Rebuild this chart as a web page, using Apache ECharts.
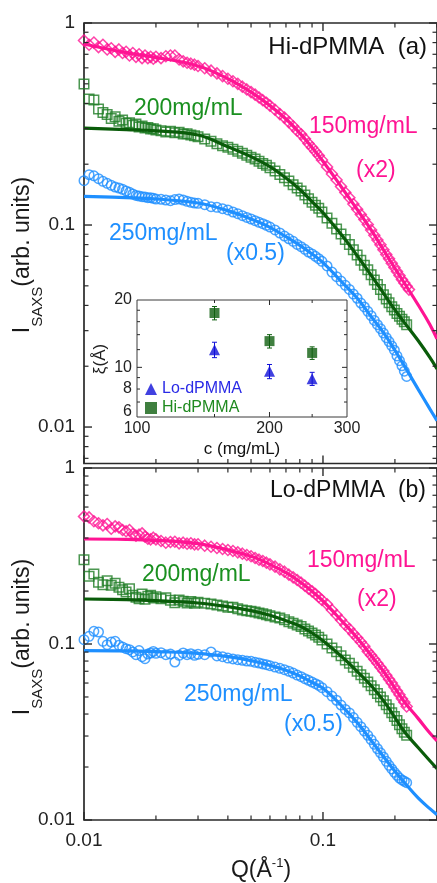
<!DOCTYPE html>
<html>
<head>
<meta charset="utf-8">
<script src="https://cdn.jsdelivr.net/npm/echarts@6/dist/echarts.min.js"></script>
<style>html,body{margin:0;padding:0;background:#fff}#c{width:437px;height:883px}</style>
</head>
<body>
<div id="c"></div>
<script>
// ---------- data ----------
const Q = [0.0100,0.0105,0.0110,0.0115,0.0120,0.0125,0.0130,0.0135,0.0140,0.0145,
0.0150,0.0155,0.0160,0.0165,0.0170,0.0175,0.0180,0.0185,0.0190,0.0195,
0.0200,0.021,0.022,0.023,0.024,0.025,0.026,0.027,0.028,0.029,
0.030,0.032,0.034,0.036,0.038,0.040,0.042,0.044,0.046,0.048,
0.050,0.052,0.054,0.056,0.058,0.060,0.063,0.066,0.069,0.072,
0.075,0.078,0.081,0.084,0.087,0.090,0.093,0.096,0.099,0.104,
0.109,0.114,0.119,0.124,0.129,0.134,0.139,0.144,0.149,0.154,
0.159,0.164,0.169,0.174,0.179,0.184,0.189,0.194,0.199,0.204,
0.209,0.214,0.219,0.224,0.229];

// (a) Hi-dPMMA
const hiP150 = [0.82,0.78,0.80,0.76,0.78,0.74,0.75,0.72,0.74,0.71,
0.72,0.69,0.71,0.68,0.70,0.67,0.69,0.67,0.68,0.665,
0.68,0.67,0.685,0.69,0.69,0.66,0.646,0.636,0.629,0.622,
0.613,0.597,0.581,0.563,0.546,0.530,0.515,0.500,0.484,0.469,
0.455,0.442,0.428,0.415,0.403,0.390,0.372,0.354,0.340,0.323,
0.308,0.293,0.281,0.267,0.253,0.242,0.231,0.221,0.210,0.194,
0.179,0.167,0.155,0.145,0.1365,0.1271,0.1198,0.1128,0.1066,0.1005,
0.0945,0.0890,0.0843,0.0798,0.0755,0.0715,0.0680,0.0647,0.0616,0.0589,
0.0562,0.0537,0.0517,0.0497,0.0479];
const hiG200 = [0.499,0.42,0.416,0.375,0.361,0.352,0.337,0.344,0.326,0.331,
0.319,0.321,0.312,0.316,0.306,0.309,0.302,0.304,0.2987,0.300,
0.295,0.293,0.2887,0.291,0.286,0.288,0.282,0.283,0.279,0.277,
0.2737,0.2665,0.2596,0.2527,0.247,0.2424,0.2369,0.2316,0.2263,0.2212,
0.2163,0.2122,0.2066,0.2019,0.1974,0.1922,0.185,0.178,0.1715,0.1651,
0.1583,0.1525,0.1474,0.1408,0.135,0.1295,0.1252,0.1209,0.116,0.1083,
0.1019,0.0955,0.0902,0.0849,0.0802,0.0755,0.071,0.0669,0.0632,0.0601,
0.0568,0.0534,0.0507,0.0479,0.0452,0.043,0.0412,0.0394,0.0380,0.0365,
0.0354,0.0342,0.0332,0.0321,null];
const hiB250 = [0.1658,0.1775,0.1753,0.1696,0.1645,0.1608,0.1572,0.1542,0.1525,0.1502,
0.1474,0.1451,0.1424,0.1402,0.1392,0.1381,0.1378,0.1366,0.1366,0.1356,
0.1345,0.1341,0.133,0.132,0.1336,0.1345,0.133,0.131,0.1295,0.1285,
0.128,0.1261,0.1232,0.1223,0.1204,0.1187,0.116,0.1138,0.1112,0.1091,
0.1071,0.1051,0.1031,0.1015,0.0996,0.0977,0.0945,0.0913,0.0882,0.0855,
0.083,0.0802,0.0781,0.0758,0.0735,0.0719,0.070,0.0681,0.0661,0.0627,
0.0585,0.0555,0.0528,0.0503,0.048,0.0455,0.0434,0.0411,0.0393,0.0374,
0.0356,0.0337,0.0321,0.0307,0.0292,0.0277,0.0265,0.0252,0.0240,0.0225,
0.0213,0.0201,0.0189,0.0178,null];

// (b) Lo-dPMMA
const loP150 = [0.531,0.524,0.498,0.485,0.472,0.481,0.452,0.466,0.460,0.444,
0.437,0.444,0.422,0.4126,0.418,0.4253,0.4073,0.3967,0.3933,0.4019,
0.3933,0.3848,0.3765,0.3798,0.381,0.3733,0.3765,0.3716,0.3733,0.3684,
0.3684,0.362,0.357,0.351,0.3466,0.342,0.3376,0.3317,0.326,0.3204,
0.315,0.308,0.3014,0.2962,0.2898,0.2836,0.2751,0.2656,0.2576,0.2477,
0.2392,0.2310,0.2231,0.2145,0.2062,0.1991,0.1923,0.1849,0.1778,0.168,
0.156,0.1462,0.1369,0.1282,0.1217,0.1145,0.1086,0.1026,0.0970,0.0908,
0.0862,0.0818,0.0777,0.0737,0.0702,0.0664,0.063,0.060,0.057,0.0541,
0.0515,0.0489,0.0466,0.0442,null];
const loG200 = [0.3014,0.2424,0.2498,0.2241,0.2173,0.229,0.2154,0.2211,0.2099,0.2035,
0.1974,0.2062,0.189,0.1841,0.1809,0.1923,0.1794,0.1866,0.189,0.1826,
0.1858,0.1809,0.1834,0.177,0.1717,0.1778,0.1748,0.171,0.1741,0.1702,
0.1725,0.1702,0.1688,0.1665,0.1644,0.1615,0.1620,0.1587,0.156,0.1547,
0.1533,0.152,0.15,0.1487,0.1468,0.1449,0.1423,0.1405,0.1373,0.134,
0.1311,0.1282,0.1257,0.1217,0.1186,0.1155,0.1125,0.1091,0.1054,0.100,
0.0949,0.0905,0.0858,0.0811,0.0777,0.0737,0.0701,0.0668,0.0638,0.0608,
0.058,0.055,0.0524,0.05,0.0476,0.0452,0.0429,0.0407,0.0387,0.0367,
0.0348,0.033,0.0315,0.0303,null];
const loB250 = [0.1058,0.1105,0.118,0.117,0.1035,0.0991,0.1026,0.1035,0.0983,0.0961,
0.0941,0.0929,0.0901,0.087,0.0917,0.0847,0.0825,0.0877,0.0889,0.0908,
0.0885,0.0893,0.087,0.0877,0.079,0.0862,0.0889,0.087,0.0881,0.0862,
0.0874,0.087,0.0901,0.0855,0.0847,0.0832,0.0822,0.0815,0.0808,0.080,
0.0797,0.0787,0.078,0.077,0.0763,0.0753,0.074,0.0727,0.0715,0.070,
0.0684,0.0666,0.0652,0.0635,0.0622,0.0608,0.0595,0.0582,0.0565,0.0536,
0.0506,0.0479,0.045,0.0425,0.0406,0.0382,0.0359,0.0339,0.032,0.0303,
0.0286,0.0269,0.0254,0.0241,0.0228,0.02154,0.02044,0.0195,0.01866,0.01794,
0.01732,0.01688,0.0166,0.0163,null];

// fitted curves
const fitQ = [0.01,0.015,0.02,0.03,0.04,0.05,0.06,0.07,0.08,0.09,0.10,0.12,0.14,0.16,0.18,0.20,0.22,0.25,0.28,0.30];
const hiP150Fit = [0.787,0.713,0.676,0.613,0.530,0.455,0.390,0.335,0.285,0.242,0.207,0.153,0.118,0.0935,0.0746,0.0611,0.0512,0.0403,0.0322,0.0273];
const hiG200Fit = [0.302,0.2965,0.2925,0.279,0.244,0.218,0.1944,0.1709,0.150,0.1305,0.115,0.0889,0.0697,0.0559,0.0455,0.038,0.0327,0.0268,0.0221,0.0194];
const hiB250Fit = [0.1386,0.1366,0.1345,0.1285,0.1178,0.1071,0.0974,0.0875,0.0793,0.0719,0.0651,0.0522,0.043,0.0349,0.0291,0.0240,0.0199,0.0154,0.0123,0.01075];
const loP150Fit = [0.395,0.3933,0.388,0.3716,0.342,0.315,0.2836,0.2542,0.226,0.1991,0.1755,0.1351,0.1072,0.0851,0.0693,0.0562,0.0465,0.0378,0.0312,0.0282];
const loG200Fit = [0.1802,0.1786,0.1763,0.171,0.163,0.1547,0.1455,0.1357,0.1266,0.1155,0.1045,0.0847,0.0693,0.0575,0.0472,0.0382,0.0315,0.0258,0.0217,0.0196];
const loB250Fit = [0.0917,0.0914,0.0905,0.0885,0.0847,0.0804,0.0756,0.0709,0.0658,0.0606,0.056,0.0444,0.0354,0.028,0.0227,0.0189,0.01622,0.01334,0.0116,0.01072];

// inset: correlation length vs concentration
const insetC = [150, 200, 250];
const xiLo = [12.0, 9.6, 8.9];
const xiLoErr = [0.95, 0.7, 0.6];
const xiHi = [17.5, 13.1, 11.6];
const xiHiErr = [1.2, 0.9, 0.75];

// tick values
const yMajorTicks = [0.01, 0.1, 1];
const yMinorTicks = [0.007,0.008,0.009,0.02,0.03,0.04,0.05,0.06,0.07,0.08,0.09,0.2,0.3,0.4,0.5,0.6,0.7,0.8,0.9];
const xMajorTicks = [0.01, 0.1];
const xMinorTicks = [0.02,0.03,0.04,0.05,0.06,0.07,0.08,0.09,0.2,0.3];
const insetXLabels = [100, 200, 300];
const insetXMajor = [200];
const insetXMinor = [150, 250];
const insetYLabels = [6, 8, 10, 20];
const insetYMajor = [10];
const insetYMinor = [7, 8, 9, 12, 14, 16, 18];

// ---------- styling ----------
const FONT = 'Arial, "Liberation Sans", Helvetica, sans-serif';
const PINK = '#ff1493', GREENM = '#1f7d25', GREENL = '#0a5c0a', GREENT = '#1a9020', BLUE = '#1e8fff';
const TRI = '#1010d8', TRIT = '#2a2ae6', SQ = '#0f5f0f', SQT = '#1f8a1f';
const AX = '#2a2a2a';

const EXT = [
  {x: [0.01, 0.3], y: [0.0066, 1]},
  {x: [0.01, 0.3], y: [0.01, 1]},
  {x: [100, 300], y: [6, 20]}
];

function decadeLabel(v) {
  const l = Math.log10(v);
  return Math.abs(l - Math.round(l)) < 1e-6 ? String(v) : '';
}

function tickSeries(gi, dir, values, len, lw) {
  const ext = EXT[gi];
  const vals = values.filter(v => dir === 'y' ? (v >= ext.y[0] && v <= ext.y[1]) : (v >= ext.x[0] && v <= ext.x[1]));
  return {
    type: 'custom', xAxisIndex: gi, yAxisIndex: gi, silent: true, clip: false, z: 6,
    data: vals.map(v => dir === 'y' ? [ext.x[0], v] : [v, ext.y[0]]),
    renderItem: function (params, api) {
      const st = {stroke: AX, lineWidth: lw};
      if (dir === 'y') {
        const v = api.value(1);
        const a = api.coord([ext.x[0], v]), b = api.coord([ext.x[1], v]);
        return {type: 'group', children: [
          {type: 'line', shape: {x1: a[0], y1: a[1], x2: a[0] + len, y2: a[1]}, style: st},
          {type: 'line', shape: {x1: b[0], y1: b[1], x2: b[0] - len, y2: b[1]}, style: st}
        ]};
      }
      const v = api.value(0);
      const a = api.coord([v, ext.y[0]]), b = api.coord([v, ext.y[1]]);
      return {type: 'group', children: [
        {type: 'line', shape: {x1: a[0], y1: a[1], x2: a[0], y2: a[1] - len}, style: st},
        {type: 'line', shape: {x1: b[0], y1: b[1], x2: b[0], y2: b[1] + len}, style: st}
      ]};
    }
  };
}

function labelSeries(gi, dir, values, fontSize, gap) {
  const ext = EXT[gi];
  return {
    type: 'custom', xAxisIndex: gi, yAxisIndex: gi, silent: true, clip: false, z: 6,
    data: values.map(v => dir === 'y' ? [ext.x[0], v] : [v, ext.y[0]]),
    renderItem: function (params, api) {
      const p = api.coord([api.value(0), api.value(1)]);
      const v = dir === 'y' ? api.value(1) : api.value(0);
      const isMin = dir === 'y' && v === ext.y[0];
      return {type: 'text',
        x: dir === 'y' ? p[0] - gap : p[0],
        y: dir === 'y' ? (isMin ? p[1] + 3 : p[1]) : p[1] + gap,
        style: {text: String(v), fill: '#222', fontSize: fontSize, fontFamily: FONT,
          align: dir === 'y' ? 'right' : 'center', textAlign: dir === 'y' ? 'right' : 'center',
          verticalAlign: dir === 'y' ? (isMin ? 'bottom' : 'middle') : 'top',
          textVerticalAlign: dir === 'y' ? (isMin ? 'bottom' : 'middle') : 'top'}};
    }
  };
}

function markers(name, gi, ys, symbol, size, color) {
  const data = [];
  Q.forEach((q, i) => { if (ys[i] != null) data.push([q, ys[i]]); });
  return {type: 'scatter', name: name, xAxisIndex: gi, yAxisIndex: gi, data: data,
    symbol: symbol, symbolSize: size, silent: true, z: 2,
    itemStyle: {color: 'rgba(0,0,0,0)', borderColor: color, borderWidth: 1.5}};
}

function fitLine(name, gi, ys, color) {
  return {type: 'line', name: name, xAxisIndex: gi, yAxisIndex: gi,
    data: fitQ.map((q, i) => [q, ys[i]]), showSymbol: false, symbol: 'none',
    smooth: 0.4, silent: true, z: 3, clip: true, lineStyle: {color: color, width: 3.2}};
}

function errorBars(gi, xs, ys, es, color) {
  return {type: 'custom', xAxisIndex: gi, yAxisIndex: gi, silent: true, z: 4,
    data: xs.map((x, i) => [x, ys[i], es[i]]),
    renderItem: function (params, api) {
      const x = api.value(0), y = api.value(1), e = api.value(2);
      const lo = api.coord([x, y - e]), hi = api.coord([x, y + e]);
      const st = {stroke: color, lineWidth: 1};
      return {type: 'group', children: [
        {type: 'line', shape: {x1: lo[0], y1: lo[1], x2: hi[0], y2: hi[1]}, style: st},
        {type: 'line', shape: {x1: lo[0] - 2.5, y1: lo[1], x2: lo[0] + 2.5, y2: lo[1]}, style: st},
        {type: 'line', shape: {x1: hi[0] - 2.5, y1: hi[1], x2: hi[0] + 2.5, y2: hi[1]}, style: st}
      ]};
    }};
}

function logAxis(gi, opts) {
  return Object.assign({gridIndex: gi, type: 'log', logBase: 10,
    axisLine: {show: false}, axisTick: {show: false}, splitLine: {show: false},
    axisLabel: {show: false}}, opts);
}

function txt(t, x, y, color, size, align) {
  return {type: 'text', x: x, y: y, z: 100, silent: true,
    style: {text: t, fill: color, fontSize: size, fontFamily: FONT,
      align: align || 'left', textAlign: align || 'left', verticalAlign: 'middle', textVerticalAlign: 'middle'}};
}

const yName = (y) => ({type: 'text', x: 23, y: y, rotation: Math.PI / 2, z: 100, silent: true,
  style: {text: '{m|I}{s|SAXS}{m|(arb. units)}', align: 'center', textAlign: 'center',
    verticalAlign: 'middle', textVerticalAlign: 'middle',
    rich: {m: {fontSize: 23, fontFamily: FONT, fill: '#1a1a1a', lineHeight: 44},
           s: {fontSize: 15, fontFamily: FONT, fill: '#1a1a1a', lineHeight: 15, verticalAlign: 'bottom'}}}});

const chart = echarts.init(document.getElementById('c'), null, {renderer: 'canvas'});
const gridBase = {show: true, backgroundColor: 'rgba(0,0,0,0)', containLabel: false, outerBoundsMode: 'none'};
chart.setOption({
  animation: false,
  backgroundColor: '#fff',
  grid: [
    Object.assign({left: 84, top: 23, width: 353, height: 440.5, borderColor: AX, borderWidth: 1.7}, gridBase),
    Object.assign({left: 84, top: 468, width: 353, height: 352, borderColor: AX, borderWidth: 1.7}, gridBase),
    Object.assign({left: 137, top: 300, width: 210, height: 117, borderColor: '#3a3a3a', borderWidth: 1}, gridBase)
  ],
  xAxis: [
    logAxis(0, {min: EXT[0].x[0], max: EXT[0].x[1]}),
    logAxis(1, {min: EXT[1].x[0], max: EXT[1].x[1],
      axisLabel: {show: true, formatter: decadeLabel, fontSize: 19, margin: 11, color: '#222', fontFamily: FONT}}),
    logAxis(2, {min: EXT[2].x[0], max: EXT[2].x[1]})
  ],
  yAxis: [
    logAxis(0, {min: EXT[0].y[0], max: EXT[0].y[1],
      axisLabel: {show: true, formatter: decadeLabel, fontSize: 19, margin: 9, color: '#222', fontFamily: FONT}}),
    logAxis(1, {min: EXT[1].y[0], max: EXT[1].y[1],
      axisLabel: {show: true, formatter: decadeLabel, fontSize: 19, margin: 9, color: '#222', fontFamily: FONT}}),
    logAxis(2, {min: EXT[2].y[0], max: EXT[2].y[1]})
  ],
  legend: {
    show: true, orient: 'vertical', left: 145, top: 381, itemWidth: 12, itemHeight: 12, itemGap: 3,
    selectedMode: false, padding: 0,
    textStyle: {fontSize: 16, fontFamily: FONT},
    data: [
      {name: 'Lo-dPMMA', icon: 'triangle', textStyle: {color: TRIT, fontSize: 16, fontFamily: FONT}},
      {name: 'Hi-dPMMA', icon: 'rect', textStyle: {color: SQT, fontSize: 16, fontFamily: FONT}}
    ]
  },
  series: [
    markers('a150', 0, hiP150, 'diamond', 11, PINK),
    markers('a200', 0, hiG200, 'rect', 9.5, GREENM),
    markers('a250', 0, hiB250, 'circle', 9.5, BLUE),
    fitLine('a150fit', 0, hiP150Fit, PINK),
    fitLine('a200fit', 0, hiG200Fit, GREENL),
    fitLine('a250fit', 0, hiB250Fit, BLUE),
    markers('b150', 1, loP150, 'diamond', 11, PINK),
    markers('b200', 1, loG200, 'rect', 9.5, GREENM),
    markers('b250', 1, loB250, 'circle', 9.5, BLUE),
    fitLine('b150fit', 1, loP150Fit, PINK),
    fitLine('b200fit', 1, loG200Fit, GREENL),
    fitLine('b250fit', 1, loB250Fit, BLUE),
    tickSeries(0, 'y', yMajorTicks, 8, 1.4),
    tickSeries(0, 'y', yMinorTicks, 4.5, 1.2),
    tickSeries(0, 'x', xMajorTicks, 8, 1.4),
    tickSeries(0, 'x', xMinorTicks, 4.5, 1.2),
    tickSeries(1, 'y', yMajorTicks, 8, 1.4),
    tickSeries(1, 'y', yMinorTicks, 4.5, 1.2),
    tickSeries(1, 'x', xMajorTicks, 8, 1.4),
    tickSeries(1, 'x', xMinorTicks, 4.5, 1.2),
    tickSeries(2, 'y', insetYMajor, 5, 1),
    tickSeries(2, 'y', insetYMinor, 3, 1),
    tickSeries(2, 'x', insetXMajor, 5, 1),
    tickSeries(2, 'x', insetXMinor, 3, 1),
    labelSeries(2, 'y', insetYLabels, 16, 5),
    labelSeries(2, 'x', insetXLabels, 16, 4),
    errorBars(2, insetC, xiLo, xiLoErr, TRI),
    errorBars(2, insetC, xiHi, xiHiErr, SQ),
    {type: 'scatter', name: 'Lo-dPMMA', xAxisIndex: 2, yAxisIndex: 2, symbol: 'triangle', symbolSize: 11,
      silent: true, z: 5, itemStyle: {color: TRI}, data: insetC.map((c, i) => [c, xiLo[i]])},
    {type: 'scatter', name: 'Hi-dPMMA', xAxisIndex: 2, yAxisIndex: 2, symbol: 'rect', symbolSize: 10,
      silent: true, z: 5, itemStyle: {color: SQ}, data: insetC.map((c, i) => [c, xiHi[i]])}
  ],
  graphic: [
    txt('Hi-dPMMA  (a)', 427, 47, '#111', 24, 'right'),
    txt('200mg/mL', 134, 109, GREENT, 23),
    txt('150mg/mL', 309, 127, PINK, 23),
    txt('(x2)', 356, 171, PINK, 23),
    txt('250mg/mL', 109, 234, BLUE, 23),
    txt('(x0.5)', 226, 254, BLUE, 23),
    txt('Lo-dPMMA  (b)', 426, 491, '#111', 23, 'right'),
    txt('150mg/mL', 307, 561, PINK, 23),
    txt('(x2)', 357, 600, PINK, 23),
    txt('200mg/mL', 142, 575, GREENT, 23),
    txt('250mg/mL', 184, 695, BLUE, 23),
    txt('(x0.5)', 284, 725, BLUE, 23),
    txt('c (mg/mL)', 242, 449, '#111', 17, 'center'),
    {type: 'text', x: 100, y: 359, rotation: Math.PI / 2, z: 100, silent: true,
      style: {text: 'ξ(Å)', fill: '#222', fontSize: 17, fontFamily: FONT, align: 'center', textAlign: 'center',
        verticalAlign: 'middle', textVerticalAlign: 'middle'}},
    yName(255),
    yName(637),
    {type: 'text', x: 261, y: 871, z: 100, silent: true,
      style: {text: '{m|Q(Å}{p|-1}{m|)}', align: 'center', textAlign: 'center', verticalAlign: 'middle', textVerticalAlign: 'middle',
        rich: {m: {fontSize: 23, fontFamily: FONT, fill: '#1a1a1a', lineHeight: 28},
               p: {fontSize: 13, fontFamily: FONT, fill: '#1a1a1a', lineHeight: 13, verticalAlign: 'top'}}}}
  ]
});
</script>
</body>
</html>
